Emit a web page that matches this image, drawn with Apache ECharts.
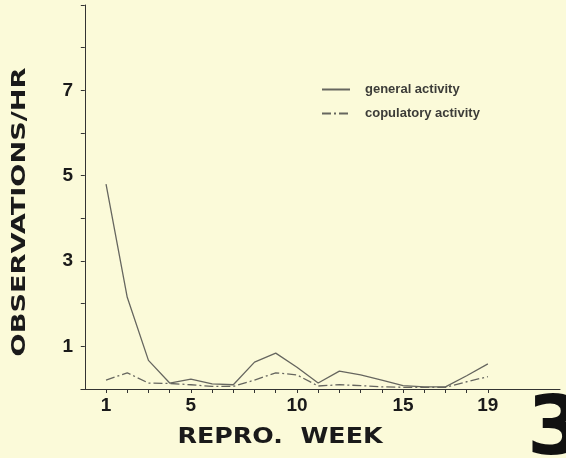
<!DOCTYPE html>
<html>
<head>
<meta charset="utf-8">
<script src="https://cdn.jsdelivr.net/npm/echarts@6/dist/echarts.min.js"></script>
<style>
  html, body { margin: 0; padding: 0; background: #fbfad9; }
  #main { width: 566px; height: 458px; }
</style>
</head>
<body>
<div id="main"></div>
<script>
// reproductive weeks and the two activity series (observations per hour)
var weeks = [1, 2, 3, 4, 5, 6, 7, 8, 9, 10, 11, 12, 13, 14, 15, 16, 17, 18, 19];
var general = [4.8, 2.15, 0.67, 0.14, 0.23, 0.12, 0.1, 0.63, 0.84, 0.51, 0.14, 0.42, 0.33, 0.21, 0.08, 0.05, 0.05, 0.31, 0.59];
var copulatory = [0.21, 0.38, 0.14, 0.13, 0.1, 0.06, 0.06, 0.21, 0.38, 0.33, 0.07, 0.1, 0.08, 0.05, 0.04, 0.04, 0.04, 0.17, 0.29];
var xLabels = [1, 5, 10, 15, 19];
var yLabels = [1, 3, 5, 7];

var chart = echarts.init(document.getElementById('main'));

function pairs(vals) {
    return weeks.map(function (w, i) { return [w, vals[i]]; });
}

var lineColor = '#66665f';
var font = 'Liberation Sans, Arial, sans-serif';
var wide = 'DejaVu Sans, sans-serif';

var option = {
    backgroundColor: '#fbfad9',
    animation: false,
    grid: { left: 81, right: 6, top: 5, bottom: 69, outerBoundsMode: 'none' },
    legend: {
        orient: 'vertical',
        left: 316,
        top: 78,
        itemWidth: 28,
        itemHeight: 14,
        itemGap: 11,
        itemStyle: { opacity: 0 },
        textStyle: { fontFamily: font, fontSize: 13, color: '#3c3c38', fontWeight: 'bold', padding: [0, 0, 0, 10] },
        data: ['general activity', 'copulatory activity']
    },
    xAxis: {
        type: 'value',
        min: -0.18,
        max: 22.4,
        splitLine: { show: false },
        axisLine: { lineStyle: { color: '#333', width: 1 } },
        axisTick: { customValues: weeks, length: 4, lineStyle: { color: '#333' } },
        axisLabel: {
            customValues: xLabels,
            margin: 7,
            fontFamily: font, fontSize: 19, fontWeight: 'bold', color: '#1a1a1a'
        }
    },
    yAxis: {
        type: 'value',
        min: 0,
        max: 9,
        interval: 1,
        splitLine: { show: false },
        axisLine: { show: true, lineStyle: { color: '#333', width: 1 } },
        axisTick: { show: true, length: 4, lineStyle: { color: '#333' } },
        axisLabel: {
            margin: 8,
            fontFamily: font, fontSize: 19, fontWeight: 'bold', color: '#1a1a1a',
            formatter: function (v) { return yLabels.indexOf(v) >= 0 ? String(v) : ''; }
        }
    },
    graphic: [
        {
            type: 'text',
            x: 20, y: 212,
            rotation: Math.PI / 2,
            scaleX: 1.36,
            style: {
                text: 'OBSERVATIONS/HR', fontFamily: wide, fontSize: 20, fontWeight: 'bold',
                fill: '#1a1a1a', align: 'center', verticalAlign: 'middle'
            }
        },
        {
            type: 'text',
            x: 280, y: 437,
            scaleX: 1.15,
            style: {
                text: 'REPRO.  WEEK', fontFamily: wide, fontSize: 22, fontWeight: 'bold',
                fill: '#1a1a1a', align: 'center', verticalAlign: 'middle'
            }
        },
        {
            type: 'text',
            x: 527, y: 392,
            style: { text: '3', fontFamily: wide, fontSize: 82, fontWeight: 'bold', fill: '#111' }
        }
    ],
    series: [
        {
            name: 'general activity',
            type: 'line',
            data: pairs(general),
            symbol: 'none',
            lineStyle: { color: lineColor, width: 1.3 },
            itemStyle: { color: lineColor }
        },
        {
            name: 'copulatory activity',
            type: 'line',
            data: pairs(copulatory),
            symbol: 'none',
            lineStyle: { color: lineColor, width: 1.3, type: [9, 3, 2, 3] },
            itemStyle: { color: lineColor }
        }
    ]
};

chart.setOption(option);
</script>
</body>
</html>
